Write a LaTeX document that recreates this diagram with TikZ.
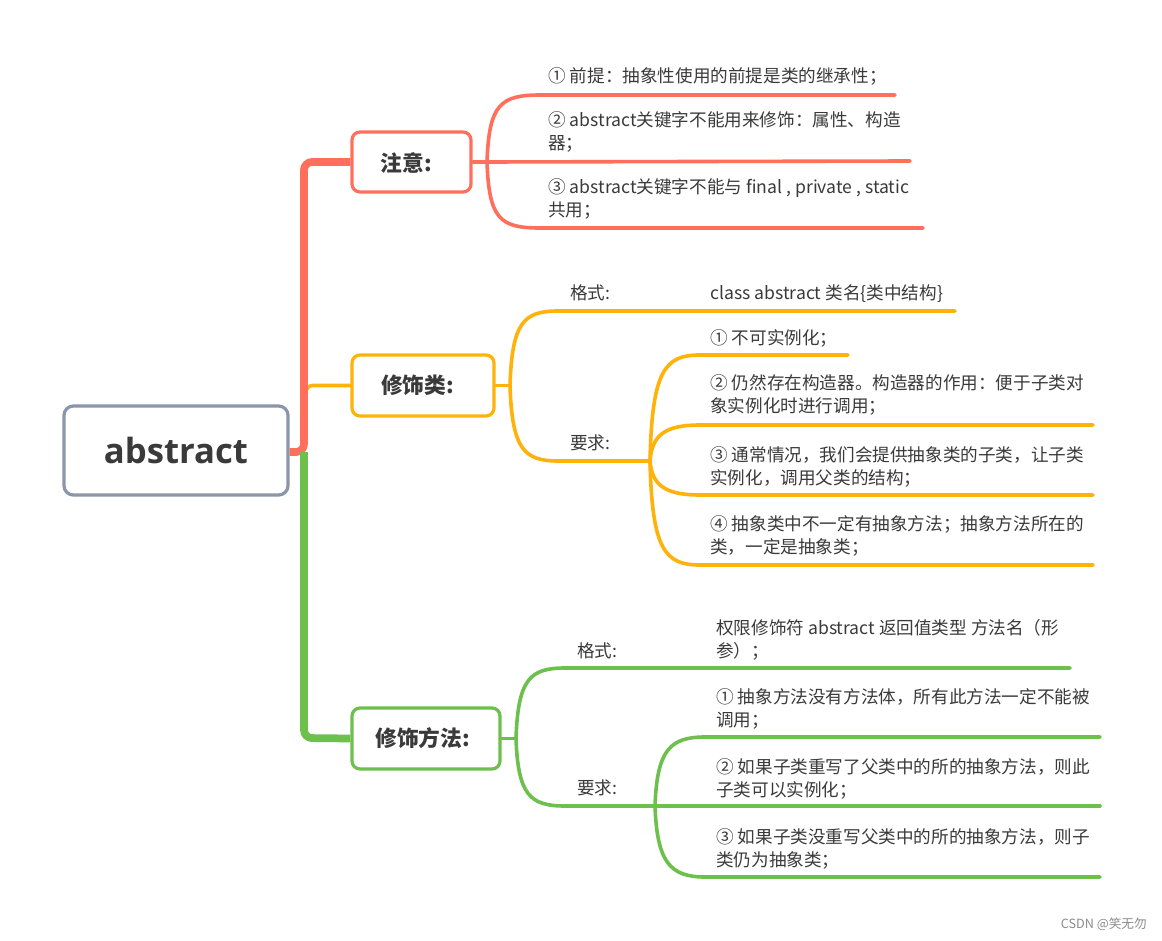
\documentclass[tikz,border=0pt]{standalone}
\usepackage{fontspec}
\setmainfont{Noto Sans CJK SC}
\newfontfamily\rootfont{Open Sans}
\definecolor{cred}{HTML}{FF6F5B}
\definecolor{corg}{HTML}{FFB30A}
\definecolor{cgrn}{HTML}{6CC04B}
\definecolor{cgry}{HTML}{8A96AA}
\definecolor{ctxt}{HTML}{3A3A3A}
\tikzset{
  box/.style={draw=#1, line width=2.4pt, rounded corners=6pt, fill=white, inner sep=0pt, text=ctxt, font=\fontsize{16.3pt}{19pt}\selectfont\bfseries},
  txt/.style={anchor=base west, inner sep=0pt, align=left, text=ctxt, font=\fontsize{13.2pt}{17.25pt}\selectfont},
  br/.style={draw=#1, line width=2.7pt, line cap=round},
  trunk/.style={draw=#1, line width=5.8pt, rounded corners=6pt}
}
\begin{document}
\begin{tikzpicture}[x=0.75pt,y=-0.75pt]
\useasboundingbox (0,0) rectangle (1162,941);
\fill[white] (0,0) rectangle (1162,941);

% boxes
\node[box=cgry, minimum width=168pt, minimum height=66.75pt, rounded corners=7pt, font=\rootfont\fontsize{26pt}{30pt}\selectfont\bfseries] (root) at (176,450.5) {abstract};
\node[box=cred, minimum width=89.25pt, minimum height=45pt, text depth=0pt] (zy) at (411.5,162) {\hspace*{-8pt}注意:};
\node[box=corg, minimum width=106.5pt, minimum height=45.75pt] (xsl) at (423,385.5) {\hspace*{-8pt}修饰类:};
\node[box=cgrn, minimum width=111pt, minimum height=45.75pt] (xsf) at (426,738.5) {\hspace*{-5pt}修饰方法:};

% trunk
\coordinate (tt) at (304,162);
\coordinate (tm) at (304,452);
\coordinate (tb) at (304,738);
\coordinate (to) at (306,397);
\coordinate (toc) at (306,385.5);
\draw[br=corg, rounded corners=5pt] (to) -- (toc) -- (xsl.west);
\draw[trunk=cred] (root.east |- tm) -- (tm) -- (tt) -- (zy.west);
\draw[trunk=cgrn, rounded corners=0pt] (tm) -- ++(0,4);
\draw[trunk=cgrn] ([yshift=-1pt]tm) -- (tb) -- (xsf.west);

% ---------- 注意 branch ----------
\coordinate (zyJ) at (487,162);
\coordinate (zy1s) at (540,95);  \coordinate (zy1e) at (895,95);
\coordinate (zy2e) at (910,161);
\coordinate (zy3s) at (540,228); \coordinate (zy3e) at (923,228);
\draw[br=cred] (zy.east) -- (zyJ) -- (zy2e);
\draw[br=cred] (zyJ) .. controls (489,105) and (500,95) .. (zy1s) -- (zy1e);
\draw[br=cred] (zyJ) .. controls (489,219) and (500,228) .. (zy3s) -- (zy3e);
\node[txt] (zyt1) at (548,83) {① 前提：抽象性使用的前提是类的继承性；};
\node[txt] (zyt2) at (548,150) {② abstract关键字不能用来修饰：属性、构造\\器；};
\node[txt] (zyt3) at (548,217) {③ abstract关键字不能与 final , private , static\\共用；};

% ---------- 修饰类 branch ----------
\coordinate (xlJ) at (510,385.5);
\coordinate (xlG) at (558,311); \coordinate (xlGe) at (955,311);
\coordinate (xlR) at (558,461); \coordinate (xlRJ) at (650,461);
\draw[br=corg] (xsl.east) -- (xlJ);
\draw[br=corg] (xlJ) .. controls (512,322) and (524,311) .. (xlG) -- (xlGe);
\draw[br=corg] (xlJ) .. controls (512,449) and (524,461) .. (xlR) -- (xlRJ);
\node[txt] (xlg) at (570,299) {格式:};
\node[txt] (xlgt) at (710,299) {class abstract 类名\{类中结构\}};
\node[txt] (xlr) at (570,449) {要求:};
\coordinate (xl1s) at (700,355); \coordinate (xl1e) at (848,355);
\coordinate (xl2s) at (700,425); \coordinate (xl2e) at (1093,425);
\coordinate (xl3s) at (700,495); \coordinate (xl3e) at (1093,495);
\coordinate (xl4s) at (700,565); \coordinate (xl4e) at (1093,565);
\draw[br=corg] (xlRJ) .. controls (652,370) and (665,355) .. (xl1s) -- (xl1e);
\draw[br=corg] (xlRJ) .. controls (652,435) and (665,425) .. (xl2s) -- (xl2e);
\draw[br=corg] (xlRJ) .. controls (652,485) and (665,495) .. (xl3s) -- (xl3e);
\draw[br=corg] (xlRJ) .. controls (652,550) and (665,565) .. (xl4s) -- (xl4e);
\node[txt] (xlt1) at (710,344) {① 不可实例化；};
\node[txt] (xlt2) at (710,412) {② 仍然存在构造器。构造器的作用：便于子类对\\象实例化时进行调用；};
\node[txt] (xlt3) at (710,484) {③ 通常情况，我们会提供抽象类的子类，让子类\\实例化，调用父类的结构；};
\node[txt] (xlt4) at (710,553) {④ 抽象类中不一定有抽象方法；抽象方法所在的\\类，一定是抽象类；};

% ---------- 修饰方法 branch ----------
\coordinate (xfJ) at (516,738.5);
\coordinate (xfG) at (565,668); \coordinate (xfGe) at (1070,668);
\coordinate (xfR) at (565,806); \coordinate (xfRJ) at (655,806);
\draw[br=cgrn] (xsf.east) -- (xfJ);
\draw[br=cgrn] (xfJ) .. controls (518,679) and (530,668) .. (xfG) -- (xfGe);
\draw[br=cgrn] (xfJ) .. controls (518,795) and (530,806) .. (xfR) -- (xfRJ);
\node[txt] (xfg) at (577,657) {格式:};
\node[txt] (xfgt) at (716,657) {权限修饰符 abstract 返回值类型 方法名（形\\参）；};
\node[txt] (xfr) at (577,794) {要求:};
\coordinate (xf1s) at (705,737); \coordinate (xf1e) at (1100,737);
\coordinate (xf2e) at (1100,806);
\coordinate (xf3s) at (705,877); \coordinate (xf3e) at (1100,877);
\draw[br=cgrn] (xfRJ) -- (xf2e);
\draw[br=cgrn] (xfRJ) .. controls (657,750) and (670,737) .. (xf1s) -- (xf1e);
\draw[br=cgrn] (xfRJ) .. controls (657,862) and (670,877) .. (xf3s) -- (xf3e);
\node[txt] (xft1) at (716,726) {① 抽象方法没有方法体，所有此方法一定不能被\\调用；};
\node[txt] (xft2) at (716,796) {② 如果子类重写了父类中的所的抽象方法，则此\\子类可以实例化；};
\node[txt] (xft3) at (716,866) {③ 如果子类没重写父类中的所的抽象方法，则子\\类仍为抽象类；};

% watermark
\node[anchor=base east, inner sep=0pt, text=black!45, font=\fontsize{9.5pt}{11pt}\selectfont] (wm) at (1147,928) {CSDN @笑无勿};
\end{tikzpicture}
\end{document}
